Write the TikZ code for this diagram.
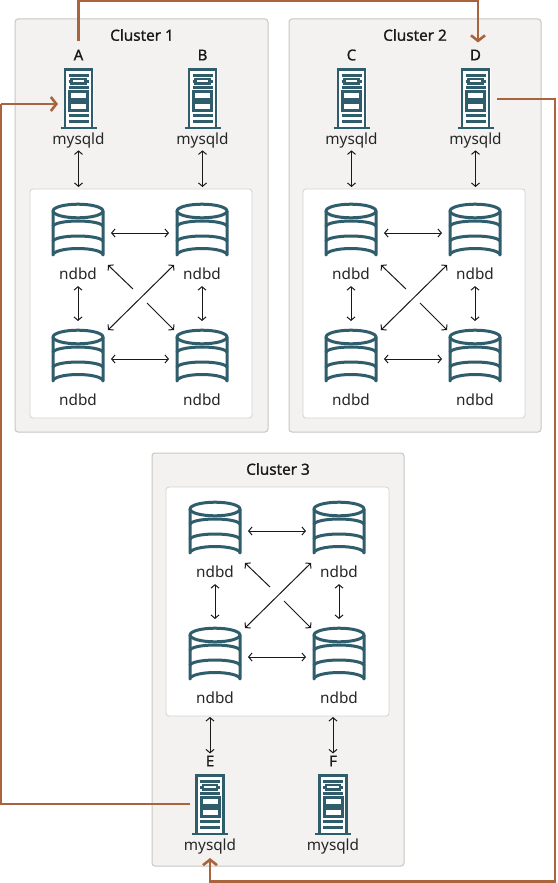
\documentclass[tikz,border=0pt]{standalone}
\usepackage{fontspec}
\setmainfont{Noto Sans}
\newfontfamily\semifont[FakeBold=1]{Noto Sans}
\usetikzlibrary{arrows.meta}
\definecolor{teal}{HTML}{2F5D6B}
\definecolor{panel}{HTML}{F3F2F0}
\definecolor{edge}{HTML}{C9C7C3}
\definecolor{rust}{HTML}{A9643D}
\tikzset{
  x=1pt,y=-1pt,
  clusterbox/.style={draw=edge,fill=panel,rounded corners=3pt,line width=1pt},
  innerbox/.style={draw=edge!80,fill=white,rounded corners=3pt,line width=.8pt},
  dbhit/.style={inner sep=0pt,outer sep=0pt,minimum width=52pt,minimum height=60pt},
  srvhit/.style={inner sep=0pt,outer sep=0pt,minimum width=30pt,minimum height=60pt},
  lab/.style={font=\fontsize{15.3}{18}\selectfont,text=black!85,inner sep=0pt,anchor=center},
  letter/.style={font=\semifont\fontsize{15}{17}\selectfont,text=black!90,inner sep=0pt},
  title/.style={font=\semifont\fontsize{15.3}{17}\selectfont,text=black!90,inner sep=0pt},
  link/.style={draw=black!90,line width=1pt,{Straight Barb[length=3.4pt,width=8pt]}-{Straight Barb[length=3.4pt,width=8pt]}},
  halflink/.style={draw=black!90,line width=1pt,-{Straight Barb[length=3.4pt,width=8pt]}},
  repl/.style={draw=rust,line width=2.2pt},
  replarrow/.style={draw=rust,line width=2.2pt,-{Straight Barb[length=5.5pt,width=14pt,line width=2.6pt]}},
  ticon/.style={draw=teal,line width=3pt,line join=round},
}
% database icon centred at #2,#3
\newcommand\dbicon[3]{%
  \node[dbhit] (#1) at (#2,#3) {};
  \begin{scope}[shift={(#2,#3)}]
    \draw[ticon] (-25,-22) -- (-25,22) arc[x radius=25,y radius=6.5,start angle=180,end angle=360] -- (25,-22);
    \draw[ticon] (0,-22) ellipse[x radius=25,y radius=6.8];
    \draw[ticon] (-25,-6.5) arc[x radius=25,y radius=5.5,start angle=180,end angle=360];
    \draw[ticon] (-25,8.5) arc[x radius=25,y radius=5.5,start angle=180,end angle=360];
  \end{scope}%
}
% server icon centred at #2,#3
\newcommand\srvicon[3]{%
  \node[srvhit] (#1) at (#2,#3) {};
  \begin{scope}[shift={(#2,#3)}]
    \fill[white] (-15,-30) rectangle (15,29);
    \draw[teal,line width=2.8pt] (-13.5,29) -- (-13.5,-28.5) -- (13.5,-28.5) -- (13.5,29);
    \draw[teal,line width=2.4pt] (-18,30) -- (18,30);
    \draw[teal,line width=2.6pt] (-10,-22.5) -- (10,-22.5);
    \draw[teal,line width=2.6pt] (-10,-10.5) -- (10,-10.5);
    \draw[teal,line width=2.8pt] (-7,-19) rectangle (7,-14.5);
    \draw[teal,line width=2.6pt] (-10,-16.8) -- (-7,-16.8) (7,-16.8) -- (10,-16.8);
    \draw[teal,line width=3pt] (-9,-6.5) rectangle (9,1);
    \draw[teal,line width=3pt] (-9,4.5) rectangle (9,12);
    \draw[teal,line width=2.6pt] (-10,17.5) -- (10,17.5);
    \draw[teal,line width=2.6pt] (-10,23.5) -- (10,23.5);
  \end{scope}%
}
% four database icons and their links: top-left icon at #2,#3
\newcommand\dbgrid[3]{%
  \dbicon{#1a}{#2}{#3}
  \dbicon{#1b}{#2+124}{#3}
  \dbicon{#1c}{#2}{#3+126}
  \dbicon{#1d}{#2+124}{#3+126}
  \node[lab] (#1al) at (#2,#3+41) {ndbd};
  \node[lab] (#1bl) at (#2+124,#3+41) {ndbd};
  \node[lab] (#1cl) at (#2,#3+167) {ndbd};
  \node[lab] (#1dl) at (#2+124,#3+167) {ndbd};
  \draw[link,shorten >=7pt,shorten <=7pt] (#1a.east) -- (#1b.west);
  \draw[link,shorten >=7pt,shorten <=7pt] (#1c.east) -- (#1d.west);
  \draw[link] ([yshift=-6pt]#1al.south) -- ([yshift=8pt]#1c.north);
  \draw[link] ([yshift=-6pt]#1bl.south) -- ([yshift=8pt]#1d.north);
  \coordinate (#1p) at (#2+30,#3+32);
  \coordinate (#1q) at (#2+96,#3+97);
  \coordinate (#1r) at (#2+96,#3+32);
  \coordinate (#1s) at (#2+30,#3+97);
  \coordinate (#1u) at (#2+55,#3+56);
  \coordinate (#1v) at (#2+69,#3+70);
  \draw[link] (#1r) -- (#1s);
  \draw[halflink] (#1u) -- (#1p);
  \draw[halflink] (#1v) -- (#1q);
}
\begin{document}
\begin{tikzpicture}
\useasboundingbox (0,0) rectangle (557,883);
\fill[white] (0,0) rectangle (557,883);
% panels
\draw[clusterbox] (15,19) rectangle (268,432);
\draw[clusterbox] (289,19) rectangle (541,432);
\draw[clusterbox] (152,453) rectangle (404,866);
\draw[innerbox] (30,189) rectangle (252,418);
\draw[innerbox] (303,189) rectangle (525,418);
\draw[innerbox] (166,487) rectangle (389,716);
\node[title] (t1) at (142,35) {Cluster 1};
\node[title] (t2) at (415,35) {Cluster 2};
\node[title] (t3) at (278,469) {Cluster 3};
% database groups
\dbgrid{m}{78}{233}
\dbgrid{n}{351}{233}
\dbgrid{o}{215}{531}
% servers
\srvicon{A}{78.5}{98}
\srvicon{B}{202.5}{98}
\srvicon{C}{351.5}{98}
\srvicon{D}{475.5}{98}
\srvicon{E}{210}{804}
\srvicon{F}{333}{804}
\node[letter] (lA) at (78.5,55) {A};
\node[letter] (lB) at (202.5,55) {B};
\node[letter] (lC) at (351.5,55) {C};
\node[letter] (lD) at (475.5,55) {D};
\node[letter] (lE) at (210,761) {E};
\node[letter] (lF) at (333,761) {F};
\node[lab] (sA) at (78.5,140.5) {mysqld};
\node[lab] (sB) at (202.5,140.5) {mysqld};
\node[lab] (sC) at (351.5,140.5) {mysqld};
\node[lab] (sD) at (475.5,140.5) {mysqld};
\node[lab] (sE) at (210,846.5) {mysqld};
\node[lab] (sF) at (333,846.5) {mysqld};
% server to data links
\draw[link] ([yshift=-2pt]sA.south) -- (sA.south |- 0,187);
\draw[link] ([yshift=-2pt]sB.south) -- (sB.south |- 0,187);
\draw[link] ([yshift=-2pt]sC.south) -- (sC.south |- 0,187);
\draw[link] ([yshift=-2pt]sD.south) -- (sD.south |- 0,187);
\draw[link] (lE.center |- 0,717) -- ([yshift=2pt]lE.north);
\draw[link] (lF.center |- 0,717) -- ([yshift=2pt]lF.north);
% replication
\coordinate (topA) at (78.5,1);
\coordinate (topD) at (478,1);
\draw[replarrow] (lA.north |- 0,41) -- (topA) -- (topD) -- (478,42.5);
\coordinate (leftA) at (1,104);
\coordinate (leftE) at (1,804);
\draw[repl] (190,804) -- (leftE) -- (leftA);
\draw[replarrow] (leftA) -- (58,104);
\coordinate (rD) at (555,99);
\coordinate (rE) at (555,881.5);
\coordinate (bE) at (210,881.5);
\draw[replarrow] (497,99) -- (rD) -- (rE) -- (bE) -- (210,858);
\end{tikzpicture}
\end{document}
